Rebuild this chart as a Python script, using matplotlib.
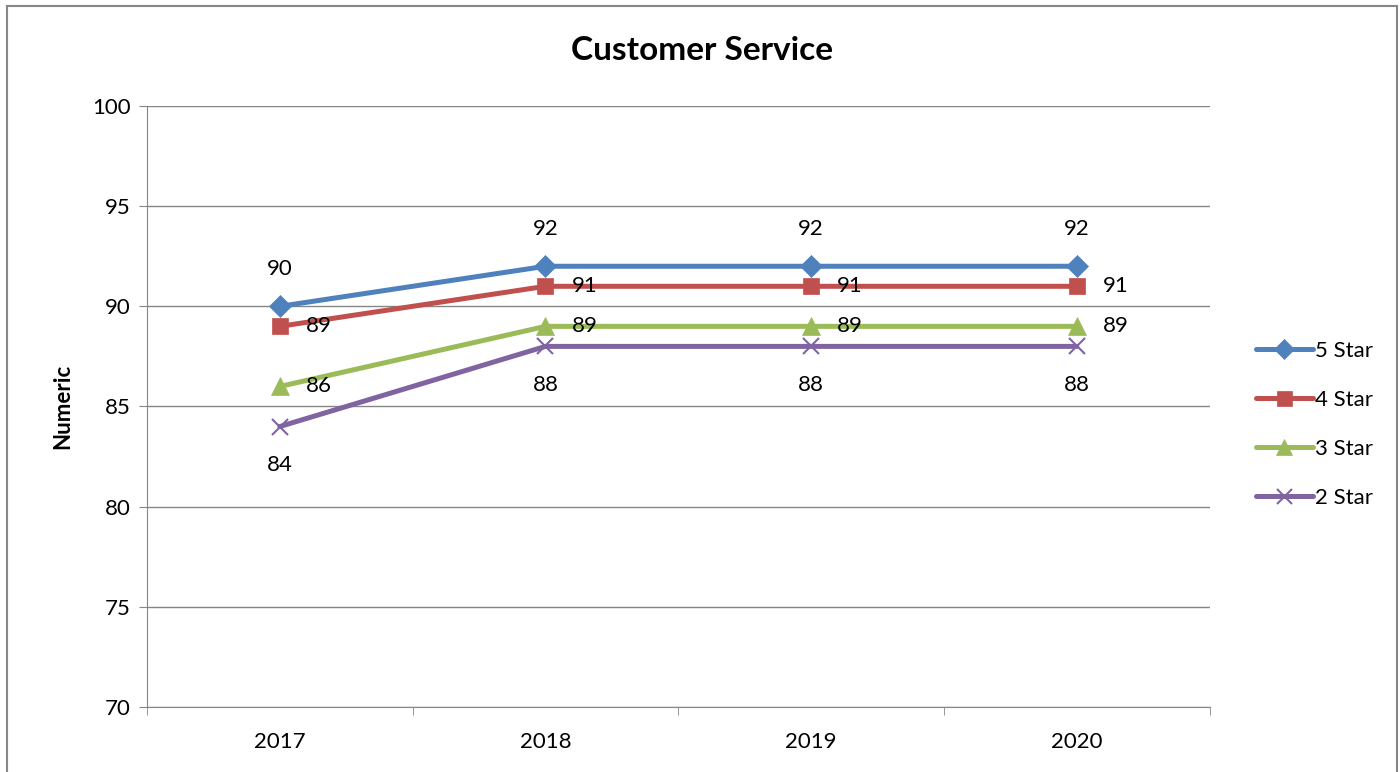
import matplotlib
matplotlib.use("Agg")
import matplotlib.pyplot as plt
from matplotlib.patches import Rectangle

years = ["2017", "2018", "2019", "2020"]
star5 = [90, 92, 92, 92]
star4 = [89, 91, 91, 91]
star3 = [86, 89, 89, 89]
star2 = [84, 88, 88, 88]
series_names = ["5 Star", "4 Star", "3 Star", "2 Star"]

plt.rcParams['font.family'] = ['Lato', 'DejaVu Sans']

fig = plt.figure(figsize=(14, 7.72), dpi=100)
ax = fig.add_axes([0.105, 0.0842, 0.759, 0.7785])

# outer frame
fig.patches.append(Rectangle((7/1400, -0.1), 1390/1400, 1 - 6/772 + 0.1,
                             transform=fig.transFigure, fill=False,
                             edgecolor='#878787', linewidth=1.5, clip_on=False))

x = list(range(len(years)))
styles = [
    (star5, '#4F81BD', 'D', 11, 'above'),
    (star4, '#C0504D', 's', 12, 'right'),
    (star3, '#9BBB59', '^', 13, 'right'),
    (star2, '#8064A2', 'x', 12, 'below'),
]
for (vals, col, mk, ms, pos), name in zip(styles, series_names):
    ax.plot(x, vals, color=col, lw=3.6, marker=mk, markersize=ms,
            markeredgewidth=1.5 if mk == 'x' else 0.5,
            markeredgecolor=col, markerfacecolor=col, label=name,
            solid_capstyle='round', zorder=3)
    for xi, v in zip(x, vals):
        if pos == 'above':
            ax.annotate(str(v), (xi, v), xytext=(0, 27), textcoords='offset points',
                        ha='center', va='center', fontsize=16)
        elif pos == 'below':
            ax.annotate(str(v), (xi, v), xytext=(0, -28), textcoords='offset points',
                        ha='center', va='center', fontsize=16)
        else:
            ax.annotate(str(v), (xi, v), xytext=(28, 0), textcoords='offset points',
                        ha='center', va='center', fontsize=16)

ax.set_xlim(-0.5, 3.5)
ax.set_ylim(70, 100)
ax.set_yticks(range(70, 101, 5))
ax.set_xticks(x)
ax.set_xticklabels(years)
ax.set_xticks([-0.5, 0.5, 1.5, 2.5, 3.5], minor=True)
ax.tick_params(axis='x', which='major', length=0, labelsize=16, pad=18)
ax.tick_params(axis='x', which='minor', length=6, color='#868686', direction='out')
ax.tick_params(axis='y', length=6, color='#868686', labelsize=16, pad=6)
ax.grid(axis='y', color='#868686', lw=1)
ax.set_axisbelow(True)
for s in ['top', 'right']:
    ax.spines[s].set_visible(False)
for s in ['left', 'bottom']:
    ax.spines[s].set_color('#868686')
ax.set_ylabel("Numeric", fontsize=16, fontweight='bold', labelpad=13)
fig.text(702/1400, 1 - 50/772, "Customer Service", fontsize=24, fontweight='bold',
         ha='center', va='center')

leg = ax.legend(loc='center left', bbox_to_anchor=(1.025, 0.47), frameon=False,
                fontsize=16, handlelength=2.55, handletextpad=0.1, labelspacing=1.3,
                markerscale=0.9)

fig.savefig("out.png", dpi=100)
